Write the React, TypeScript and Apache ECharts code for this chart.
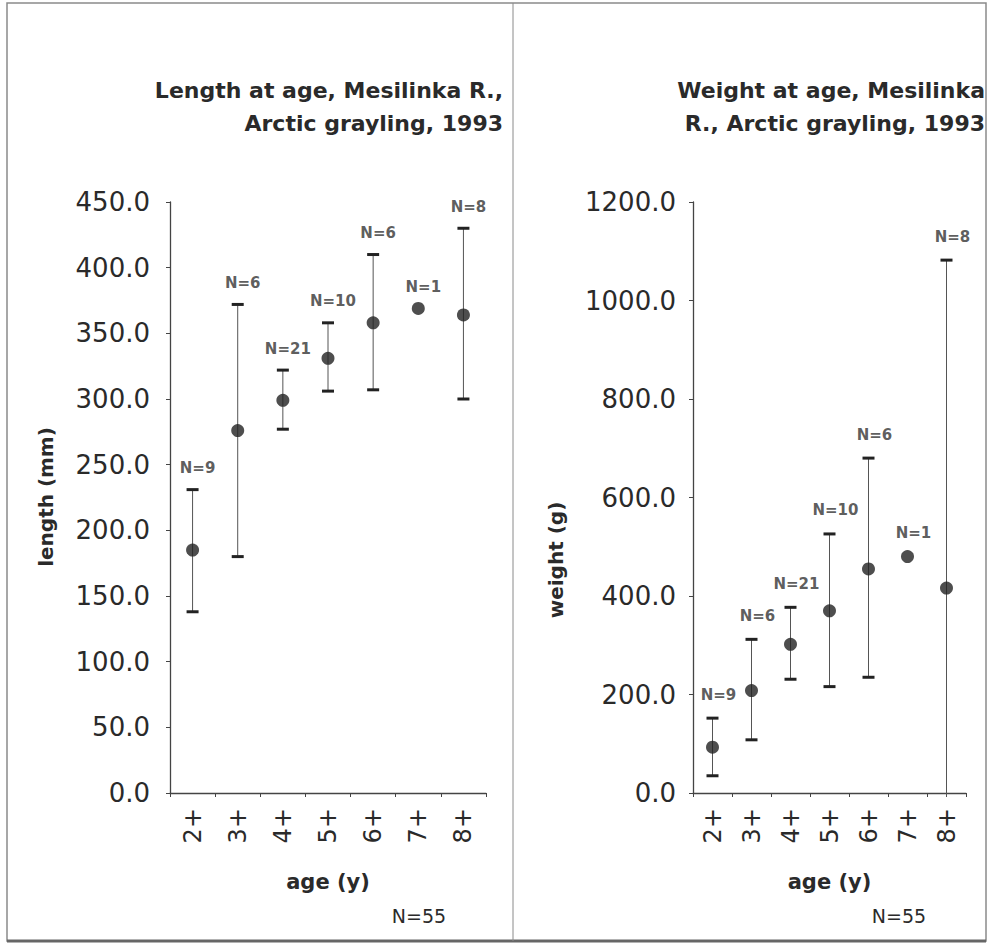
import React, { useEffect, useRef } from "react";
import * as echarts from "echarts";

const ages = ["2+", "3+", "4+", "5+", "6+", "7+", "8+"];
const lengthMean = [185, 276, 299, 331, 358, 369, 364];
const lengthLow: (number | null)[] = [138, 180, 277, 306, 307, null, 300];
const lengthHigh: (number | null)[] = [231, 372, 322, 358, 410, null, 430];
const lengthN = [9, 6, 21, 10, 6, 1, 8];
const weightMean = [93, 208, 302, 370, 455, 480, 416];
const weightLow: (number | null)[] = [35, 108, 231, 216, 235, null, 0];
const weightHigh: (number | null)[] = [152, 312, 377, 526, 680, null, 1082];
const weightN = [9, 6, 21, 10, 6, 1, 8];
const totalN = 55;

const FONT = "DejaVu Sans";
const TEXT = "#2a2a2a";

function errorSeries(idx: number, low: (number | null)[], high: (number | null)[]) {
  const data: number[][] = [];
  low.forEach((l, i) => {
    if (l != null && high[i] != null) data.push([i, l, high[i] as number]);
  });
  return {
    type: "custom",
    xAxisIndex: idx,
    yAxisIndex: idx,
    encode: { x: 0, y: [1, 2] },
    data,
    clip: false,
    renderItem: (params: any, api: any) => {
      const x = api.value(0);
      const lo = api.value(1);
      const pLo = api.coord([x, lo]);
      const pHi = api.coord([x, api.value(2)]);
      const w = 12;
      const h = 3;
      const children: any[] = [
        {
          type: "line",
          shape: { x1: pLo[0], y1: pLo[1] + (lo === 0 ? 4 : 0), x2: pHi[0], y2: pHi[1] },
          style: { stroke: "#555", lineWidth: 1 },
        },
        {
          type: "rect",
          shape: { x: pHi[0] - w / 2, y: pHi[1] - h / 2, width: w, height: h },
          style: { fill: "#222" },
        },
      ];
      if (lo !== 0) {
        children.push({
          type: "rect",
          shape: { x: pLo[0] - w / 2, y: pLo[1] - h / 2, width: w, height: h },
          style: { fill: "#222" },
        });
      }
      return { type: "group", children };
    },
  };
}

function meanSeries(idx: number, mean: number[]) {
  return {
    type: "scatter",
    xAxisIndex: idx,
    yAxisIndex: idx,
    symbol: "circle",
    symbolSize: 13,
    itemStyle: { color: "#222" },
    data: mean.map((m, i) => [i, m]),
    z: 5,
  };
}

function nSeries(idx: number, mean: number[], high: (number | null)[], n: number[], dist: number, dx: number) {
  return {
    type: "scatter",
    xAxisIndex: idx,
    yAxisIndex: idx,
    symbolSize: 0,
    itemStyle: { color: "transparent" },
    data: mean.map((m, i) => [i, high[i] != null ? high[i] : m, n[i]]),
    label: {
      show: true,
      position: "top",
      distance: dist,
      offset: [dx, 0],
      formatter: (p: any) => "N=" + p.value[2],
      fontFamily: FONT,
      fontWeight: "bold",
      fontSize: 15,
      color: "#333",
    },
    z: 6,
  };
}

function xAxis(idx: number) {
  return {
    type: "category",
    gridIndex: idx,
    data: ages,
    boundaryGap: true,
    name: "age (y)",
    nameLocation: "middle",
    nameGap: 78,
    nameTextStyle: { fontFamily: FONT, fontWeight: "bold", fontSize: 21, color: TEXT },
    axisLine: { lineStyle: { color: "#444", width: 1.3 } },
    axisTick: { show: true, length: 4, alignWithLabel: false, lineStyle: { color: "#444" } },
    axisLabel: {
      rotate: 90,
      margin: 15,
      fontFamily: FONT,
      fontSize: 24,
      color: TEXT,
      padding: [0, 0, 12, 0],
    },
    splitLine: { show: false },
  };
}

function yAxis(idx: number, max: number, interval: number, margin: number) {
  return {
    type: "value",
    gridIndex: idx,
    min: 0,
    max,
    interval,
    axisLine: { show: true, lineStyle: { color: "#444", width: 1.3 } },
    axisTick: { show: true, length: 4, lineStyle: { color: "#444" } },
    axisLabel: {
      margin,
      fontFamily: FONT,
      fontSize: 26,
      color: TEXT,
      formatter: (v: number) => v.toFixed(1),
    },
    splitLine: { show: false },
  };
}

export default function App() {
  const ref = useRef<HTMLDivElement>(null);
  useEffect(() => {
    if (!ref.current) return;
    const chart = echarts.init(ref.current, undefined, { renderer: "svg" });
    chart.setOption({
      animation: false,
      backgroundColor: "#fff",
      grid: [
        { left: 170, top: 202, width: 316, height: 591 },
        { left: 693, top: 202, width: 273, height: 591 },
      ],
      xAxis: [xAxis(0), xAxis(1)],
      yAxis: [yAxis(0, 450, 50, 20), yAxis(1, 1200, 200, 17)],
      series: [
        errorSeries(0, lengthLow, lengthHigh),
        meanSeries(0, lengthMean),
        nSeries(0, lengthMean, lengthHigh, lengthN, 14, 5),
        errorSeries(1, weightLow, weightHigh),
        meanSeries(1, weightMean),
        nSeries(1, weightMean, weightHigh, weightN, 16, 6),
      ],
      graphic: [
        {
          type: "rect",
          shape: { x: 7, y: 3, width: 979, height: 938 },
          style: { fill: "none", stroke: "#8a8a8a", lineWidth: 1.5 },
          silent: true,
        },
        {
          type: "line",
          shape: { x1: 7, y1: 941, x2: 986, y2: 941 },
          style: { stroke: "#666", lineWidth: 3 },
          silent: true,
        },
        {
          type: "line",
          shape: { x1: 513, y1: 3, x2: 513, y2: 941 },
          style: { stroke: "#8a8a8a", lineWidth: 1 },
          silent: true,
        },
        {
          type: "text",
          x: 503,
          y: 74,
          style: {
            text: "Length at age, Mesilinka R.,\nArctic grayling, 1993",
            align: "right",
            verticalAlign: "top",
            lineHeight: 33,
            fontFamily: FONT,
            fontWeight: "bold",
            fontSize: 22,
            fill: TEXT,
          },
        },
        {
          type: "text",
          x: 985,
          y: 74,
          style: {
            text: "Weight at age, Mesilinka\nR., Arctic grayling, 1993",
            align: "right",
            verticalAlign: "top",
            lineHeight: 33,
            fontFamily: FONT,
            fontWeight: "bold",
            fontSize: 22,
            fill: TEXT,
          },
        },
        {
          type: "text",
          x: 46,
          y: 497,
          rotation: Math.PI / 2,
          style: {
            text: "length (mm)",
            align: "center",
            verticalAlign: "middle",
            fontFamily: FONT,
            fontWeight: "bold",
            fontSize: 20,
            fill: TEXT,
          },
        },
        {
          type: "text",
          x: 556,
          y: 560,
          rotation: Math.PI / 2,
          style: {
            text: "weight (g)",
            align: "center",
            verticalAlign: "middle",
            fontFamily: FONT,
            fontWeight: "bold",
            fontSize: 20,
            fill: TEXT,
          },
        },
        {
          type: "text",
          x: 419,
          y: 916,
          style: {
            text: "N=" + totalN,
            align: "center",
            verticalAlign: "middle",
            fontFamily: FONT,
            fontSize: 19,
            fill: TEXT,
          },
        },
        {
          type: "text",
          x: 899,
          y: 916,
          style: {
            text: "N=" + totalN,
            align: "center",
            verticalAlign: "middle",
            fontFamily: FONT,
            fontSize: 19,
            fill: TEXT,
          },
        },
      ],
    });
    return () => chart.dispose();
  }, []);
  return (
    <div
      ref={ref}
      style={{ position: "fixed", left: 0, top: 0, width: 988, height: 945 }}
    />
  );
}
